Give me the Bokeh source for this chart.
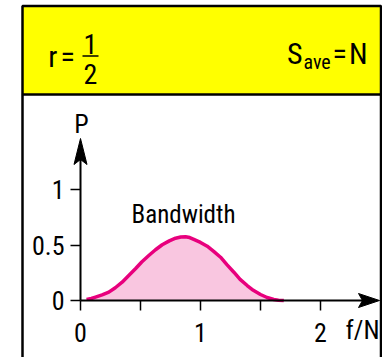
from bokeh.plotting import figure
from bokeh.models import Label, FixedTicker
from bokeh.embed import file_html
from bokeh.resources import INLINE

# ---- data ----
f_vals = [0.05, 0.09, 0.125, 0.18, 0.236, 0.29, 0.347, 0.40, 0.458, 0.51,
          0.569, 0.625, 0.681, 0.74, 0.792, 0.835, 0.875, 0.91, 0.944, 1.0,
          1.056, 1.11, 1.167, 1.22, 1.278, 1.33, 1.389, 1.44, 1.5, 1.555,
          1.611, 1.65, 1.694]
p_vals = [0.01, 0.018, 0.03, 0.05, 0.075, 0.115, 0.165, 0.222, 0.286, 0.347,
          0.405, 0.457, 0.502, 0.537, 0.561, 0.572, 0.575, 0.567, 0.55, 0.523,
          0.489, 0.443, 0.39, 0.323, 0.255, 0.19, 0.135, 0.092, 0.054, 0.027,
          0.009, 0.003, 0.0]
x_ticks = [0, 0.5, 1, 1.5, 2]
x_tick_labels = ["0", "", "1", "", "2"]
y_ticks = [0, 0.5, 1]
y_tick_labels = ["0", "0.5", "1"]
x_label = "f/N"
y_label = "P"
curve_label = "Bandwidth"

FONT = "Roboto Condensed"
W, H = 382, 357
X0, Y0, SX, SY = 80.0, 300.0, 120.0, 111.0
def px2x(X):
    return (X - X0) / SX
def px2y(Y):
    return (Y0 - Y) / SY

p = figure(width=W, height=H, output_backend="svg", toolbar_location=None,
           x_range=(px2x(0), px2x(W)), y_range=(px2y(H), px2y(0)),
           min_border=0)
p.grid.visible = False
p.outline_line_color = None
p.background_fill_color = "white"

# header box
p.quad(left=[px2x(22)], right=[px2x(380.5)], top=[px2y(5.5)], bottom=[px2y(94)],
       fill_color="#FFFF00", line_color="black", line_width=2.5)
p.segment(x0=[px2x(22), px2x(380.5)], y0=[px2y(94), px2y(94)],
          x1=[px2x(22), px2x(380.5)], y1=[px2y(370), px2y(370)],
          line_color="black", line_width=2.5)

# curve
p.varea(x=f_vals, y1=[0] * len(f_vals), y2=p_vals, fill_color="#F9C6E0")
p.line(f_vals, p_vals, line_color="#E8007D", line_width=3.5, line_join="round")

# axes
xa = p.xaxis[0]
ya = p.yaxis[0]
for ax in (xa, ya):
    ax.fixed_location = 0
    ax.axis_line_color = None
    ax.major_tick_in = 0
    ax.major_tick_out = 10
    ax.minor_tick_line_color = None
    ax.major_tick_line_width = 1.5
    ax.major_tick_line_color = "black"
    ax.major_label_text_font = FONT
    ax.major_label_text_font_size = "26px"
    ax.major_label_text_color = "black"
xa.ticker = FixedTicker(ticks=x_ticks)
ya.ticker = FixedTicker(ticks=y_ticks)
xa.major_label_overrides = dict(zip(x_ticks, x_tick_labels))
ya.major_label_overrides = dict(zip(y_ticks, y_tick_labels))
xa.major_label_standoff = 12
ya.major_label_standoff = 6

# axis lines + arrowheads
p.segment(x0=[0, 0], y0=[0, 0], x1=[px2x(365), 0], y1=[0, px2y(150)],
          line_color="black", line_width=2)
p.patches(xs=[[px2x(379), px2x(358), px2x(362), px2x(358)],
              [px2x(80), px2x(73.5), px2x(80), px2x(86.5)]],
          ys=[[0, px2y(293), 0, px2y(307)],
              [px2y(138), px2y(164), px2y(159), px2y(164)]],
          fill_color="black", line_color="black", line_width=1)

DY = 9  # label baseline correction
def lab(text, X, Y, size, align="left"):
    p.add_layout(Label(x=px2x(X), y=px2y(Y - DY), text=text, text_font=FONT,
                       text_font_size=size, text_align=align,
                       text_baseline="alphabetic", text_color="black"))

lab(y_label, 81, 132, "26px", "center")
lab(x_label, 345, 338, "26px", "left")
lab(curve_label, 183, 223, "25px", "center")

# header texts
lab("r", 57, 65, "30px", "right")
lab("=", 60, 65, "30px", "left")
lab("1", 90, 52, "28px", "center")
lab("2", 90, 82, "28px", "center")
p.segment(x0=[px2x(82)], y0=[px2y(55.5)], x1=[px2x(98)], y1=[px2y(55.5)],
          line_color="black", line_width=1.5)
lab("S", 302, 62, "30px", "right")
lab("ave", 303, 70, "20px", "left")
lab("=", 332, 62, "30px", "left")
lab("N", 367, 62, "30px", "right")

open("out.html", "w").write(file_html(p, INLINE))
